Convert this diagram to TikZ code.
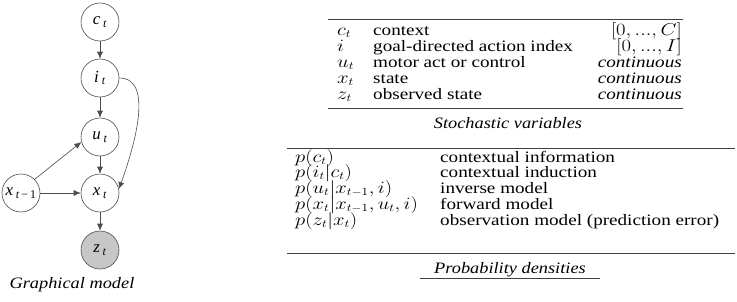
\documentclass[tikz,border=0pt]{standalone}
\usepackage{fontspec}
\setmainfont{Liberation Serif}
\usetikzlibrary{arrows.meta}
\newcommand{\vr}[2]{\textit{#1}\,\textsubscript{\textit{#2}}}

\begin{document}
\begin{tikzpicture}[x=1bp,y=1bp]
\useasboundingbox (0,0) rectangle (737,301);
\tikzset{
  var/.style={circle, draw=black!70, line width=0.6bp, minimum size=38bp, inner sep=0pt, font=\fontsize{17}{17}\selectfont},
  obs/.style={var, fill=black!22},
  edge/.style={draw=black!70, line width=0.6bp, -{Latex[length=7bp,width=6bp]}},
  trule/.style={draw=black!75, line width=1bp},
  cell/.style={anchor=base west, inner sep=0pt, font=\fontsize{16}{16}\selectfont, xscale=1.2, transform shape},
  cellr/.style={cell, anchor=base east},
  captext/.style={anchor=base, inner sep=0pt, font=\fontsize{16}{16}\selectfont\itshape, xscale=1.15, transform shape}
}
% graphical model
\node[var] (c) at (100,279) {\vr{c}{t}};
\node[var] (i) at (100,223) {\vr{i}{t}};
\node[var] (u) at (100,164) {\vr{u}{t}};
\node[var] (x) at (100,108) {\vr{x}{t}};
\node[obs] (z) at (100,51) {\vr{z}{t}};
\node[var] (xp) at (21,108) {\textit{x}\,\textsubscript{\textit{t}\,\textminus\,1}};
\draw[edge] (c) -- (i);
\draw[edge] (i) -- (u);
\draw[edge] (u) -- (x);
\draw[edge] (x) -- (z);
\draw[edge] (xp) -- (x);
\draw[edge] (xp.45) -- (u.195);
\draw[edge] (i.east) to[out=0,in=70,looseness=0.85] (x.12);
\node[captext] (gm) at (72,13) {Graphical model};
% stochastic variables
\draw[trule] (328,281) -- (683,281);
\node[cell] (v1) at (337,266) {$c_t$};
\node[cell] (v2) at (337,250) {$i$};
\node[cell] (v3) at (337,234) {$u_t$};
\node[cell] (v4) at (337,218) {$x_t$};
\node[cell] (v5) at (337,202) {$z_t$};
\node[cell] at (373,266) {context};
\node[cell] at (373,250) {goal-directed action index};
\node[cell] at (373,234) {motor act or control};
\node[cell] at (373,218) {state};
\node[cell] at (373,202) {observed state};
\node[cellr] at (682,266) {$[0,...,C]$};
\node[cellr] at (682,250) {$[0,...,I]$};
\node[cellr] at (682,234) {\textit{continuous}};
\node[cellr] at (682,218) {\textit{continuous}};
\node[cellr] at (682,202) {\textit{continuous}};
\draw[trule] (328,193) -- (683,193);
\node[captext] (sv) at (508,173) {Stochastic variables};
% probability densities
\draw[trule] (287,153) -- (735,153);
\node[cell] at (295,139) {$p(c_t)$};
\node[cell] at (295,124) {$p(i_t|c_t)$};
\node[cell] at (295,108) {$p(u_t|x_{t-1},i)$};
\node[cell] at (295,92) {$p(x_t|x_{t-1},u_t,i)$};
\node[cell] at (295,76) {$p(z_t|x_t)$};
\node[cell] at (440,139) {contextual information};
\node[cell] at (440,124) {contextual induction};
\node[cell] at (440,108) {inverse model};
\node[cell] at (440,92) {forward model};
\node[cell] at (440,76) {observation model (prediction error)};
\draw[trule] (287,48) -- (735,48);
\node[captext] (pd) at (510,28) {Probability densities};
\draw[trule] (420,23) -- (600,23);
\end{tikzpicture}
\end{document}
